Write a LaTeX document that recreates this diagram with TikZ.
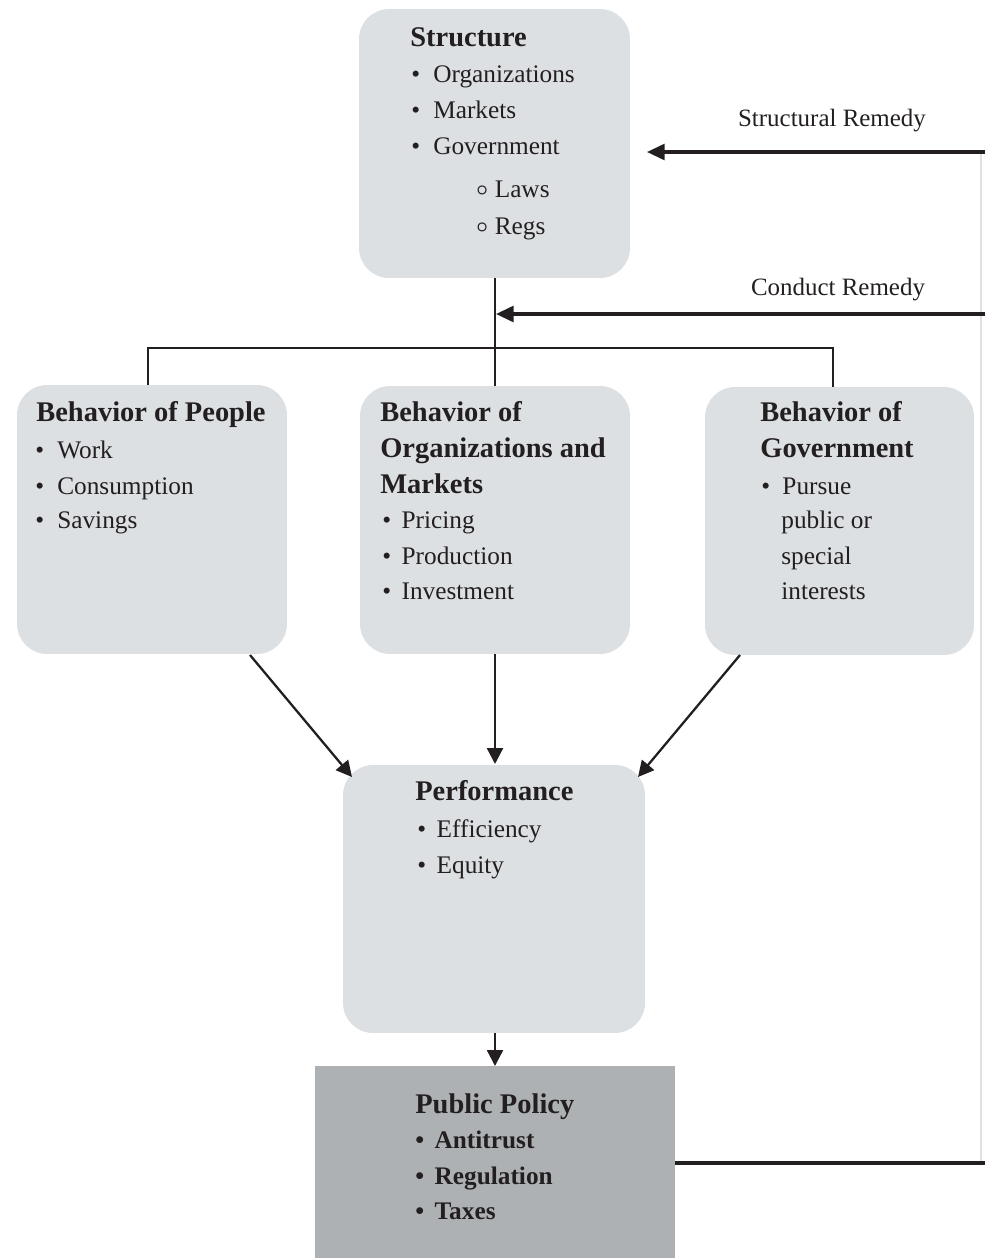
\documentclass[tikz,border=0pt]{standalone}
\usepackage{fontspec}
\setmainfont{Liberation Serif}
\usetikzlibrary{arrows.meta}
\definecolor{boxfill}{HTML}{DDE0E3}
\definecolor{polfill}{HTML}{AEB1B4}
\definecolor{ink}{HTML}{231F20}
\newcommand\bul[1]{\makebox[#1][l]{\textbullet}}
\newcommand\subb{\makebox[10.5pt][l]{\raisebox{0.15ex}{\scalebox{0.8}{$\boldsymbol{\circ}$}}}}
\usepackage{amsmath}
\usepackage{bm}
\begin{document}
\begin{tikzpicture}[x=0.02cm,y=-0.02cm,
  box/.style={fill=boxfill, rounded corners=0.6cm, inner sep=0, draw=none},
  polbox/.style={fill=polfill, inner sep=0, draw=none},
  body/.style={anchor=base west, inner sep=0, text=ink, font=\fontsize{14.4}{18}\selectfont},
  ttl/.style={anchor=base west, inner sep=0, text=ink, font=\bfseries\fontsize{16.2}{18}\selectfont},
  bbody/.style={anchor=base west, inner sep=0, text=ink, font=\bfseries\fontsize{14.4}{18}\selectfont},
  lbl/.style={anchor=base, inner sep=0, text=ink, font=\fontsize{14.2}{18}\selectfont},
  lnk/.style={draw=ink, line width=0.9pt},
  arr/.style={draw=ink, line width=1.3pt, -{Triangle[length=9pt,width=9pt]}},
  rem/.style={draw=ink, line width=1.8pt},
  remv/.style={draw=black!12, line width=0.8pt}]
\useasboundingbox (0,0) rectangle (985,1258);

% boxes
\node[box, minimum width=5.42cm, minimum height=5.38cm] (S) at (494.5,143.5) {};
\node[box, minimum width=5.4cm, minimum height=5.38cm] (P) at (152,519.5) {};
\node[box, minimum width=5.4cm, minimum height=5.36cm] (O) at (495,520) {};
\node[box, minimum width=5.38cm, minimum height=5.36cm] (G) at (839.5,521) {};
\node[box, minimum width=6.04cm, minimum height=5.36cm] (F) at (494,899) {};
\node[polbox, minimum width=7.2cm, minimum height=3.84cm] (Q) at (495,1162) {};

% Structure text
\node[ttl] (s0) at (410,46) {Structure};
\node[body] (s1) at (411,82) {\bul{12.5pt}Organizations};
\node[body] (s2) at (411,118) {\bul{12.5pt}Markets};
\node[body] (s3) at (411,154) {\bul{12.5pt}Government};
\node[body] (s4) at (476,197) {\subb Laws};
\node[body] (s5) at (476,234) {\subb Regs};

% People
\node[ttl] (p0) at (36,421) {Behavior of People};
\node[body] (p1) at (35,458) {\bul{12.5pt}Work};
\node[body] (p2) at (35,494) {\bul{12.5pt}Consumption};
\node[body] (p3) at (35,528) {\bul{12.5pt}Savings};

% Organizations and markets
\node[ttl] (o0) at (380,421) {Behavior of};
\node[ttl] (o1) at (380,457) {Organizations and};
\node[ttl] (o2) at (380,493) {Markets};
\node[body] (o3) at (382,528) {\bul{11pt}Pricing};
\node[body] (o4) at (382,564) {\bul{11pt}Production};
\node[body] (o5) at (382,599) {\bul{11pt}Investment};

% Government
\node[ttl] (g0) at (760,421) {Behavior of};
\node[ttl] (g1) at (760,457) {Government};
\node[body] (g2) at (761,494) {\bul{12pt}Pursue};
\node[body] (g3) at (781,528) {public or};
\node[body] (g4) at (781,564) {special};
\node[body] (g5) at (781,599) {interests};

% Performance
\node[ttl] (f0) at (415,800) {Performance};
\node[body] (f1) at (417,837) {\bul{11pt}Efficiency};
\node[body] (f2) at (417,873) {\bul{11pt}Equity};

% Public policy
\node[ttl] (q0) at (415,1113) {Public Policy};
\node[bbody] (q1) at (415,1148) {\bul{11pt}Antitrust};
\node[bbody] (q2) at (415,1184) {\bul{11pt}Regulation};
\node[bbody] (q3) at (415,1219) {\bul{11pt}Taxes};

% labels
\node[lbl] (lsr) at (832,126) {Structural Remedy};
\node[lbl] (lcr) at (838,295) {Conduct Remedy};

% tree connectors
\coordinate (sBot) at (495,278);
\coordinate (oTop) at (495,386);
\coordinate (bar) at (495,348);
\coordinate (pTop) at (148,385);
\coordinate (gTop) at (833,387);
\draw[lnk] (sBot) -- (oTop);
\draw[lnk] (pTop) |- (bar) -| (gTop);

% behaviour arrows
\coordinate (pOut) at (250,655);
\coordinate (fInL) at (352,777);
\coordinate (gOut) at (740,655);
\coordinate (fInR) at (638,777);
\coordinate (oOut) at (495,654);
\coordinate (fInM) at (495,764);
\coordinate (fOut) at (495,1033);
\coordinate (qIn) at (495,1066);
\draw[arr] (pOut) -- (fInL);
\draw[arr] (oOut) -- (fInM);
\draw[arr] (gOut) -- (fInR);
\draw[arr] (fOut) -- (qIn);

% remedy feedback
\coordinate (qOut) at (675,1163);
\coordinate (rBot) at (985,1163);
\coordinate (rTop) at (985,152);
\coordinate (rMid) at (985,314);
\coordinate (vBot) at (981,1163);
\coordinate (vTop) at (981,152);
\coordinate (srEnd) at (647,152);
\coordinate (crEnd) at (496,314);
\draw[remv] (vBot) -- (vTop);
\draw[rem] (qOut) -- (rBot);
\draw[rem, -{Triangle[length=10pt,width=9pt]}] (rTop) -- (srEnd);
\draw[rem, -{Triangle[length=10pt,width=9pt]}] (rMid) -- (crEnd);
\end{tikzpicture}
\end{document}
